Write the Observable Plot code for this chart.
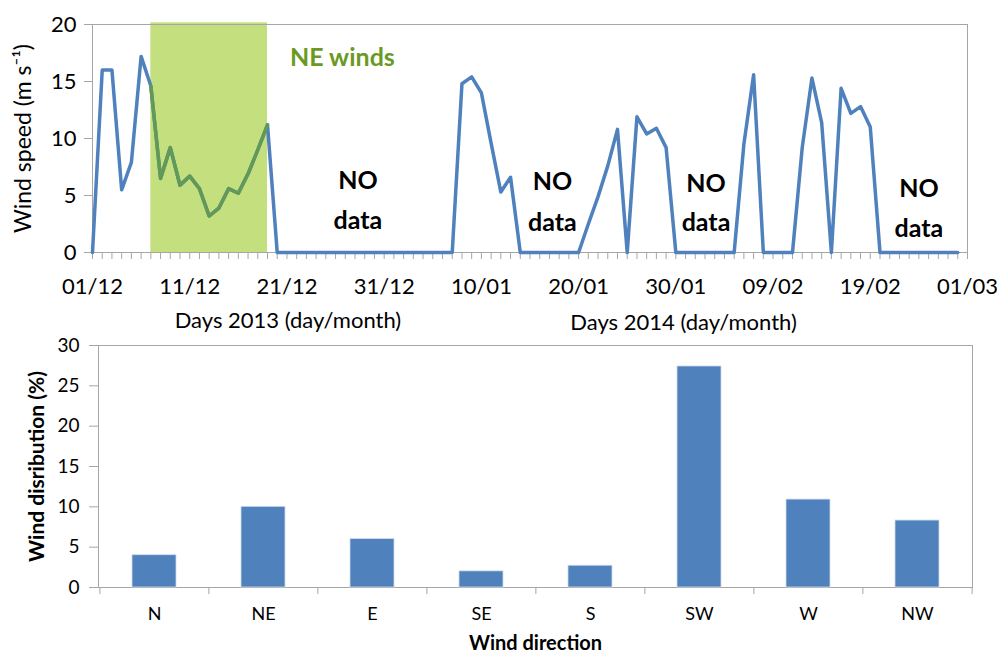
<!DOCTYPE html>
<html><head><meta charset="utf-8">
<script src="https://cdn.jsdelivr.net/npm/d3@7"></script>
<script src="https://cdn.jsdelivr.net/npm/@observablehq/plot@0.6"></script>
<style>
body{margin:0;background:#fff;}
#chart{width:997px;height:655px;position:relative;background:#fff;}
#chart svg{display:block;}
</style></head><body><div id="chart"></div>
<script>
// ---------- data ----------
const startDate = "2013-12-01";          // first day of the daily series
const windSpeed = [                       // daily mean wind speed (m s-1), 01/12/2013 .. 28/02/2014
  0, 16.0, 16.0, 5.5, 7.9, 17.2, 14.6, 6.5, 9.2, 5.9, 6.7, 5.6, 3.2, 3.9, 5.6, 5.2, 6.9, 9.0, 11.2,
  0, 0, 0, 0, 0, 0, 0, 0, 0, 0, 0, 0, 0, 0, 0, 0, 0, 0, 0,
  14.8, 15.4, 14.0, 9.6, 5.3, 6.6,
  0, 0, 0, 0, 0, 0, 0,
  2.5, 4.9, 7.6, 10.8, 0, 11.9, 10.4, 10.9, 9.2,
  0, 0, 0, 0, 0, 0, 0,
  9.5, 15.6,
  0, 0, 0, 0,
  9.2, 15.3, 11.4, 0, 14.4, 12.2, 12.8, 11.0,
  0, 0, 0, 0, 0, 0, 0, 0, 0
];
const neWindsDays = [6, 18];               // NE winds period (day index from start)
const noDataDays = [27.3, 47.3, 63.1, 85]; // centre of "NO data" notes (day index)
const xLabelEvery = 10;                    // labelled ticks every 10 days
const yTicksTop = [0, 5, 10, 15, 20];

const directions = ["N", "NE", "E", "SE", "S", "SW", "W", "NW"];
const windShare = [4.0, 10.0, 6.0, 2.0, 2.7, 27.4, 10.9, 8.3];
const yTicksBottom = [0, 5, 10, 15, 20, 25, 30];

// ---------- helpers ----------
const FONT = "Lato, 'Open Sans', sans-serif";
const DAY = 864e5;
const t0 = new Date(startDate + "T00:00:00Z");
const day = d => new Date(+t0 + d * DAY);
const speedData = windSpeed.map((v, i) => ({date: day(i), speed: v}));
const neData = speedData.slice(neWindsDays[0], neWindsDays[1] + 1);
const allDays = d3.range(0, 91).map(day);
const labelDays = d3.range(0, 91, xLabelEvery).map(day);
const GRAY = "#a6a6a6";

// ---------- top chart ----------
const W = 997;
const topPlot = Plot.plot({
  width: W, height: 335,
  marginLeft: 92, marginRight: 30, marginTop: 24, marginBottom: 83,
  style: {fontFamily: FONT, fontSize: "22px", color: "#000", background: "#fff", overflow: "visible"},
  x: {type: "utc", domain: [day(0), day(90)]},
  y: {domain: [0, 20]},
  marks: [
    Plot.rect([{a: day(neWindsDays[0]), b: day(neWindsDays[1])}],
      {x1: "a", x2: "b", y1: 0, y2: 20.15, fill: "#c4df7e"}),
    Plot.frame({stroke: GRAY}),
    Plot.axisY({ticks: yTicksTop, tickSize: 8, tickPadding: 8, stroke: GRAY, fill: "#000", fontSize: 22, label: null}),
    Plot.axisX({ticks: allDays, tickSize: 7, tickFormat: () => "", stroke: GRAY, label: null}),
    Plot.axisX({ticks: labelDays, tickSize: 0, tickPadding: 26, tickFormat: "%d/%m", fill: "#000", fontSize: 22, label: null}),
    Plot.line(speedData, {x: "date", y: "speed", stroke: "#4f81bd", strokeWidth: 3.5, strokeLinejoin: "round"}),
    Plot.line(neData, {x: "date", y: "speed", stroke: "#629a55", strokeWidth: 3.5, strokeLinejoin: "round"}),
    Plot.text(["NE winds"], {x: day(25.7), y: 17.1, fill: "#6a9a1f", fontWeight: "bold", fontSize: 25}),
    Plot.text(noDataDays, {x: d => day(d), y: [6.3, 6.15, 6.05, 5.6], text: () => "NO", fontWeight: "bold", fontSize: 25, fill: "#000"}),
    Plot.text(noDataDays, {x: d => day(d), y: [2.8, 2.55, 2.55, 2.1], text: () => "data", fontWeight: "bold", fontSize: 25, fill: "#000"}),
    Plot.text(["Wind speed (m s\u207B\u00B9)"], {frameAnchor: "left", textAnchor: "middle", lineAnchor: "middle", rotate: -90, dx: -69, fontSize: 23, fill: "#000"}),
    Plot.text(["Days 2013 (day/month)"], {x: day(20.1), frameAnchor: "bottom", lineAnchor: "middle", dy: 68, fontSize: 22, fill: "#000"}),
    Plot.text(["Days 2014 (day/month)"], {x: day(60.8), frameAnchor: "bottom", lineAnchor: "middle", dy: 70, fontSize: 22, fill: "#000"})
  ]
});

// ---------- bottom chart ----------
const dirData = directions.map((d, i) => ({dir: d, share: windShare[i]}));
const mlB = 98, mrB = 25;
const step = (W - mlB - mrB) / directions.length;
const bottomPlot = Plot.plot({
  width: W, height: 320,
  marginLeft: mlB, marginRight: mrB, marginTop: 10, marginBottom: 68,
  style: {fontFamily: FONT, fontSize: "18px", color: "#000", background: "#fff", overflow: "visible"},
  x: {domain: directions, paddingInner: 0.6, paddingOuter: 0.3},
  y: {domain: [0, 30]},
  marks: [
    Plot.frame({stroke: GRAY}),
    Plot.barY(dirData, {x: "dir", y: "share", fill: "#4f81bd", stroke: "#d0dcec", strokeWidth: 0.8}),
    Plot.axisY({ticks: yTicksBottom, tickSize: 9, tickPadding: 10, stroke: GRAY, fill: "#000", fontSize: 19, label: null}),
    Plot.axisX({tickSize: 0, tickPadding: 20, fill: "#000", fontSize: 18, label: null}),
    Plot.axisX({tickSize: 7, tickFormat: () => "", stroke: GRAY, dx: -step / 2, label: null}),
    Plot.axisX({ticks: [directions[directions.length - 1]], tickSize: 7, tickFormat: () => "", stroke: GRAY, dx: step / 2, label: null}),
    Plot.text(["Wind direction"], {frameAnchor: "bottom", lineAnchor: "middle", dy: 56, fontWeight: "bold", fontSize: 20, fill: "#000"}),
    Plot.text(["Wind disribution (%)"], {frameAnchor: "left", textAnchor: "middle", lineAnchor: "middle", rotate: -90, dx: -61, fontWeight: "bold", fontSize: 21, fill: "#000"})
  ]
});

const root = document.getElementById("chart");
root.append(topPlot, bottomPlot);
</script>
</body></html>
